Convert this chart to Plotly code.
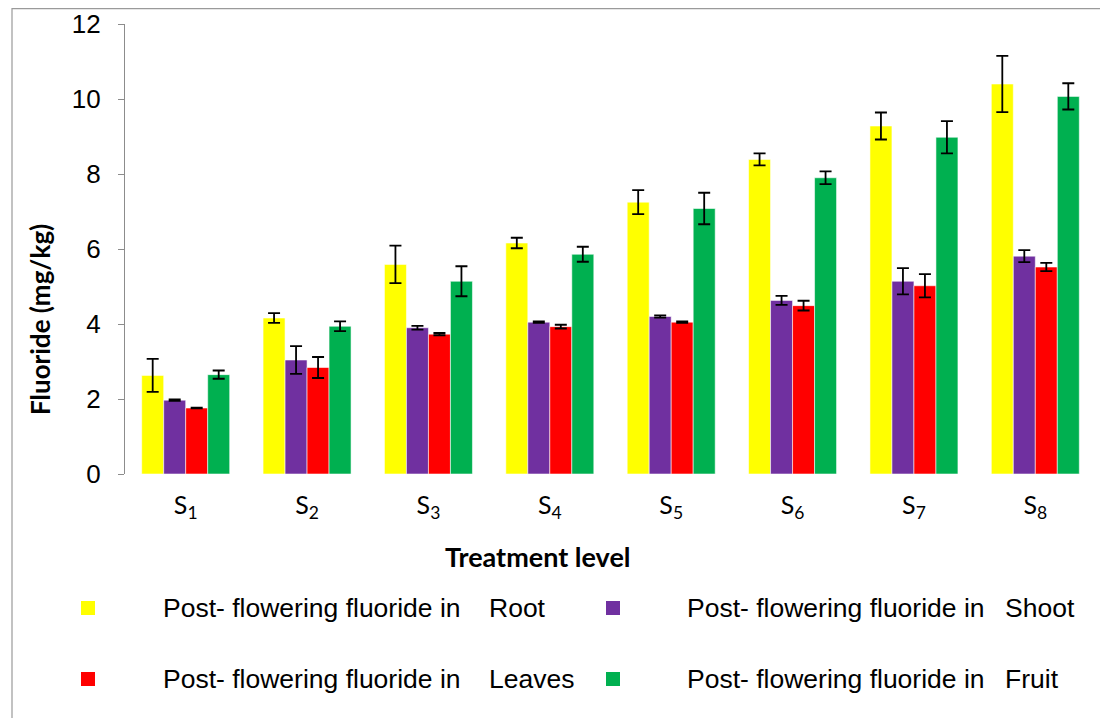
import plotly.graph_objects as go

categories = ["S<sub>1</sub>", "S<sub>2</sub>", "S<sub>3</sub>", "S<sub>4</sub>",
              "S<sub>5</sub>", "S<sub>6</sub>", "S<sub>7</sub>", "S<sub>8</sub>"]

root = [2.63, 4.16, 5.59, 6.16, 7.25, 8.39, 9.28, 10.40]
root_err = [0.44, 0.13, 0.50, 0.14, 0.32, 0.16, 0.36, 0.75]
shoot = [1.97, 3.04, 3.90, 4.05, 4.20, 4.63, 5.14, 5.81]
shoot_err = [0.02, 0.37, 0.05, 0.02, 0.03, 0.12, 0.35, 0.16]
leaves = [1.76, 2.84, 3.73, 3.93, 4.05, 4.49, 5.02, 5.52]
leaves_err = [0.01, 0.28, 0.03, 0.05, 0.02, 0.13, 0.31, 0.11]
fruit = [2.65, 3.94, 5.14, 5.86, 7.08, 7.90, 8.98, 10.07]
fruit_err = [0.11, 0.13, 0.40, 0.20, 0.42, 0.17, 0.43, 0.35]

prefix = "Post- flowering fluoride in"
series_names = ["Root", "Shoot", "Leaves", "Fruit"]
colors = ["#FFFF00", "#7030A0", "#FF0000", "#00B050"]
y_ticks = [0, 2, 4, 6, 8, 10, 12]

# page body has an 8px margin: work in screen coordinates, convert to figure coords
OFF = 8
W, H = 1100, 710
# plot area in screen pixels: x 125..1096, y 24..474
L, R, T, B = 125 - OFF, W - (1096 - OFF), 24 - OFF, H - (474 - OFF)
pw, ph = W - L - R, H - T - B


def px(sx):
    return (sx - OFF - L) / pw


def py(sy):
    return (H - B - (sy - OFF)) / ph


fig = go.Figure()
for name, vals, errs, col in zip(series_names,
                                 [root, shoot, leaves, fruit],
                                 [root_err, shoot_err, leaves_err, fruit_err],
                                 colors):
    fig.add_trace(go.Bar(
        x=categories, y=vals, name=f"{prefix} {name}",
        marker=dict(color=col, line=dict(color="rgba(255,255,255,0.55)", width=1)),
        error_y=dict(type="data", array=errs, visible=True,
                     color="#000000", thickness=1.8, width=6),
        showlegend=False,
    ))

shapes = []
annotations = []
# border box
shapes.append(dict(type="rect", xref="paper", yref="paper",
                   x0=px(12), x1=px(1130), y0=py(OFF + 0.6), y1=py(740),
                   line=dict(color="#9a9a9a", width=1.2), fillcolor="rgba(0,0,0,0)",
                   layer="below"))

# manual legend
legend_pos = [(81, 608, 161, 487), (606, 608, 685, 1003),
              (81, 679, 161, 487), (606, 679, 685, 1003)]
font_leg = dict(family="Liberation Sans, Arial", size=26.5, color="#000")
for (mx, my, tx, sx), name, col in zip(legend_pos, series_names, colors):
    shapes.append(dict(type="rect", xref="paper", yref="paper",
                       x0=px(mx), x1=px(mx + 14), y0=py(my - 7), y1=py(my + 7),
                       fillcolor=col, line=dict(width=0)))
    annotations.append(dict(xref="paper", yref="paper", x=px(tx), y=py(my),
                            xanchor="left", yanchor="middle", showarrow=False,
                            text=prefix, font=font_leg))
    annotations.append(dict(xref="paper", yref="paper", x=px(sx), y=py(my),
                            xanchor="left", yanchor="middle", showarrow=False,
                            text=name, font=font_leg))

# x-axis title
annotations.append(dict(xref="paper", yref="paper", x=px(538), y=py(556),
                        xanchor="center", yanchor="middle", showarrow=False,
                        text="<b>Treatment level</b>",
                        font=dict(family="Lato", size=27, color="#000")))
# y-axis title
annotations.append(dict(xref="paper", yref="paper", x=px(40), y=py(320),
                        xanchor="center", yanchor="middle", showarrow=False,
                        text="<b>Fluoride (mg/kg)</b>", textangle=-90,
                        font=dict(family="Lato", size=26, color="#000")))

fig.update_layout(
    width=W, height=H, autosize=False,
    margin=dict(l=L, r=R, t=T, b=B, pad=0, autoexpand=False),
    paper_bgcolor="#ffffff", plot_bgcolor="#ffffff",
    barmode="group", bargap=0.275, bargroupgap=0,
    shapes=shapes, annotations=annotations,
    xaxis=dict(showline=False, showgrid=False, zeroline=False, ticks="",
               automargin=False,
               tickfont=dict(family="Lato", size=25, color="#000"),
               ticklabelstandoff=14, fixedrange=True),
    yaxis=dict(range=[0, 12], tickvals=y_ticks, showgrid=False, zeroline=False,
               automargin=False,
               showline=True, linecolor="#8c8c8c", linewidth=1.2,
               ticks="outside", ticklen=6, tickcolor="#8c8c8c", tickwidth=1.2,
               tickfont=dict(family="Liberation Sans, Arial", size=26, color="#000"),
               ticklabelstandoff=12, fixedrange=True),
)

fig.write_html("out.html")
